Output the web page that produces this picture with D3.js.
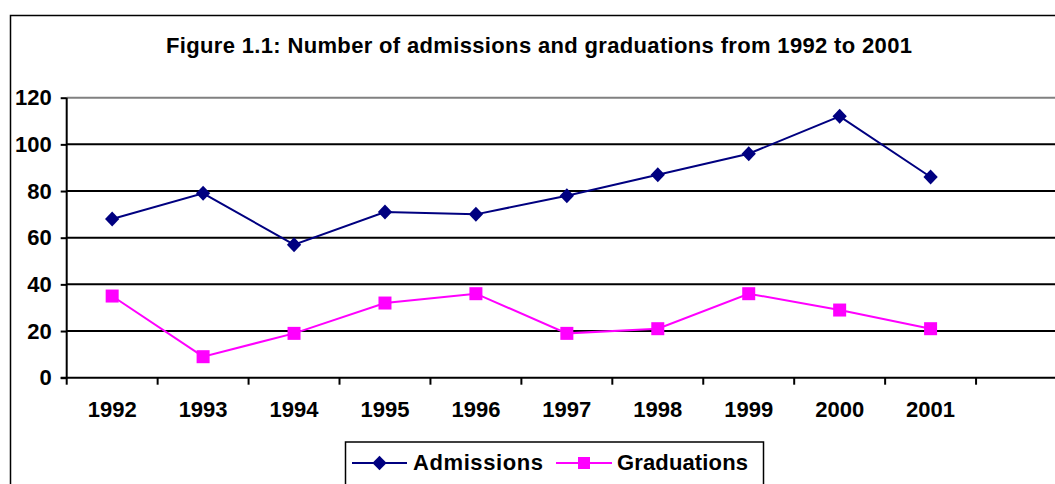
<!DOCTYPE html>
<html>
<head>
<meta charset="utf-8">
<script src="https://cdn.jsdelivr.net/npm/d3@7"></script>
<style>
  body { margin: 0; background: #fff; }
  svg { display: block; font-family: "Liberation Sans", Arial, sans-serif; font-weight: bold; }
  .axis path { display: none; }
  .axis text { font-size: 22px; font-weight: bold; fill: #000; font-family: "Liberation Sans", Arial, sans-serif; }
</style>
</head>
<body>
<svg id="chart" width="1055" height="484"></svg>
<script>
'use strict';

const years = ['1992', '1993', '1994', '1995', '1996', '1997', '1998', '1999', '2000', '2001'];
const admissions = [68, 79, 57, 71, 70, 78, 87, 96, 112, 86];
const graduations = [35, 9, 19, 32, 36, 19, 21, 36, 29, 21];
const yTicks = [0, 20, 40, 60, 80, 100, 120];
const seriesNames = ['Admissions', 'Graduations'];

const plot = {left: 66.7, right: 1067, top: 97.7, bottom: 377.7};

const svg = d3.select('#chart');

// outer chart frame
svg.append('rect')
  .attr('x', 10.5)
  .attr('y', 15.5)
  .attr('width', 1100)
  .attr('height', 520)
  .attr('fill', '#fff')
  .attr('stroke', '#000')
  .attr('stroke-width', 1.5);

// 11 slots: the years and one empty one at the end
const xScale = d3.scaleBand()
  .domain(years.concat(['']))
  .range([plot.left, plot.right])
  .padding(0);

const yScale = d3.scaleLinear()
  .domain([0, 120])
  .range([plot.bottom, plot.top]);

const xMid = d => xScale(d) + xScale.bandwidth() / 2;

// gridlines
svg.append('g')
  .selectAll('line')
  .data(yTicks.filter(d => d > 0))
  .enter()
  .append('line')
  .attr('x1', plot.left)
  .attr('x2', 1055)
  .attr('y1', d => yScale(d))
  .attr('y2', d => yScale(d))
  .attr('stroke', d => d === 120 ? '#808080' : '#000')
  .attr('stroke-width', 2);

// y axis
const yAxis = svg.append('g')
  .attr('class', 'axis')
  .attr('transform', `translate(${plot.left},0)`)
  .call(d3.axisLeft(yScale).tickValues(yTicks).tickSize(6).tickPadding(9));
yAxis.selectAll('line').attr('stroke', '#000').attr('stroke-width', 2);

svg.append('line')
  .attr('x1', plot.left).attr('x2', plot.left)
  .attr('y1', plot.top).attr('y2', plot.bottom + 1)
  .attr('stroke', '#000').attr('stroke-width', 2);

// x axis line and ticks between categories
svg.append('line')
  .attr('x1', plot.left - 6).attr('x2', 1055)
  .attr('y1', plot.bottom).attr('y2', plot.bottom)
  .attr('stroke', '#000').attr('stroke-width', 2);

svg.append('g')
  .selectAll('line')
  .data(xScale.domain().concat(['end']))
  .enter()
  .append('line')
  .attr('x1', (d, i) => plot.left + i * xScale.bandwidth())
  .attr('x2', (d, i) => plot.left + i * xScale.bandwidth())
  .attr('y1', plot.bottom)
  .attr('y2', plot.bottom + 7)
  .attr('stroke', '#000')
  .attr('stroke-width', 2);

svg.append('g')
  .selectAll('text')
  .data(years)
  .enter()
  .append('text')
  .attr('x', xMid)
  .attr('y', 417)
  .attr('text-anchor', 'middle')
  .attr('font-size', 22)
  .text(d => d);

// lines + markers
const lineGen = d3.line()
  .x((d, i) => xMid(years[i]))
  .y(d => yScale(d));

const navy = '#000080';
const magenta = '#ff00ff';
const diamond = d3.symbol().type(d3.symbolDiamond2).size(130);

svg.append('path')
  .datum(admissions)
  .attr('d', lineGen)
  .attr('fill', 'none')
  .attr('stroke', navy)
  .attr('stroke-width', 2);

svg.append('path')
  .datum(graduations)
  .attr('d', lineGen)
  .attr('fill', 'none')
  .attr('stroke', magenta)
  .attr('stroke-width', 2);

svg.append('g')
  .selectAll('path')
  .data(admissions)
  .enter()
  .append('path')
  .attr('d', diamond)
  .attr('transform', (d, i) => `translate(${xMid(years[i])},${yScale(d)}) scale(1,1.05)`)
  .attr('fill', navy);

svg.append('g')
  .selectAll('rect')
  .data(graduations)
  .enter()
  .append('rect')
  .attr('x', (d, i) => xMid(years[i]) - 6.5)
  .attr('y', d => yScale(d) - 6.5)
  .attr('width', 13)
  .attr('height', 13)
  .attr('fill', magenta);

// title
svg.append('text')
  .attr('x', 539)
  .attr('y', 52.5)
  .attr('text-anchor', 'middle')
  .attr('font-size', 22)
  .attr('textLength', 746)
  .text('Figure 1.1: Number of admissions and graduations from 1992 to 2001');

// legend
const legend = svg.append('g');
legend.append('rect')
  .attr('x', 345.5)
  .attr('y', 442)
  .attr('width', 418)
  .attr('height', 60)
  .attr('fill', '#fff')
  .attr('stroke', '#000')
  .attr('stroke-width', 1.5);

const legendItems = [
  {name: seriesNames[0], color: navy, x1: 352, x2: 407, tx: 413, tw: 130},
  {name: seriesNames[1], color: magenta, x1: 556, x2: 612, tx: 617, tw: 131}
];
const ly = 463;

legendItems.forEach((it, i) => {
  legend.append('line')
    .attr('x1', it.x1).attr('x2', it.x2)
    .attr('y1', ly).attr('y2', ly)
    .attr('stroke', it.color).attr('stroke-width', 2);
  const cx = (it.x1 + it.x2) / 2;
  if (i === 0) {
    legend.append('path')
      .attr('d', diamond)
      .attr('transform', `translate(${cx},${ly})`)
      .attr('fill', it.color);
  } else {
    legend.append('rect')
      .attr('x', cx - 6).attr('y', ly - 6)
      .attr('width', 12).attr('height', 12)
      .attr('fill', it.color);
  }
  legend.append('text')
    .attr('x', it.tx)
    .attr('y', 470)
    .attr('font-size', 22)
    .attr('textLength', it.tw)
    .text(it.name);
});
</script>
</body>
</html>
